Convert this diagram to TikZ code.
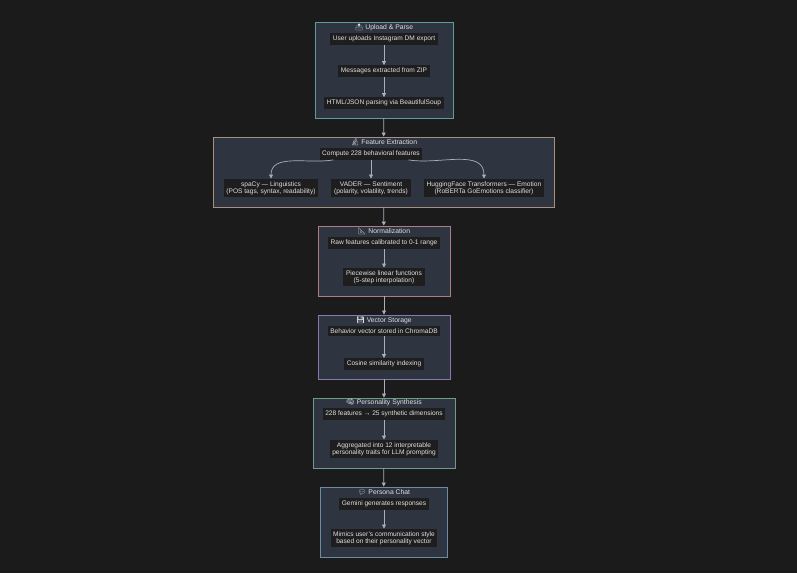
\documentclass[tikz,border=0pt]{standalone}
\usepackage{fontspec}
\setmainfont{Liberation Sans}
\newfontfamily\emo{Noto Emoji}
\usetikzlibrary{arrows.meta}
\definecolor{bg}{HTML}{1B1B1B}
\definecolor{clfill}{HTML}{2E3440}
\definecolor{nfill}{HTML}{1E1E1E}
\definecolor{txt}{HTML}{E0E0E0}
\definecolor{edge}{HTML}{A8B0BC}
\definecolor{b1c}{HTML}{5E9C9C}
\definecolor{b2c}{HTML}{A89080}
\definecolor{b3c}{HTML}{B07C84}
\definecolor{b4c}{HTML}{8878B0}
\definecolor{b5c}{HTML}{6E9C84}
\definecolor{b6c}{HTML}{6A8CA8}
\tikzset{
 x=1pt,y=-1pt,
 cl/.style={draw=#1,fill=clfill,line width=0.9pt,inner sep=0pt},
 nd/.style={fill=nfill,text=txt,font=\fontsize{6.6}{7.2}\selectfont,align=center,inner sep=2.6pt},
 ttl/.style={text=txt,font=\fontsize{6.8}{7}\selectfont,inner sep=0pt},
 ar/.style={draw=edge,line width=0.7pt,-{Triangle[length=4pt,width=4pt]}},
}
\begin{document}
\begin{tikzpicture}
\fill[bg] (0,0) rectangle (797,573);
\useasboundingbox (0,0) rectangle (797,573);
% clusters
\node[cl=b1c, minimum width=138pt, minimum height=96pt] (c1) at (384,70) {};
\node[cl=b2c, minimum width=341pt, minimum height=70pt] (c2) at (383.5,172) {};
\node[cl=b3c, minimum width=132pt, minimum height=70pt] (c3) at (384,261) {};
\node[cl=b4c, minimum width=132pt, minimum height=64pt] (c4) at (384,347) {};
\node[cl=b5c, minimum width=142pt, minimum height=70pt] (c5) at (384,433) {};
\node[cl=b6c, minimum width=127pt, minimum height=70pt] (c6) at (383.5,522) {};
% titles
\node[ttl] (t1) at (384,27) {{\emo 📤} Upload \& Parse};
\node[ttl] (t2) at (384,142) {{\emo 🔬} Feature Extraction};
\node[ttl] (t3) at (384,231) {{\emo 📐} Normalization};
\node[ttl] (t4) at (384,320) {{\emo 💾} Vector Storage};
\node[ttl] (t5) at (384,403) {{\emo 🧠} Personality Synthesis};
\node[ttl] (t6) at (384,492) {{\emo 💬} Persona Chat};
% nodes
\node[nd] (a1) at (384,39) {User uploads Instagram DM export};
\node[nd] (a2) at (384,71) {Messages extracted from ZIP};
\node[nd] (a3) at (384,103) {HTML/JSON parsing via BeautifulSoup};
\node[nd] (b0) at (371,154) {Compute 228 behavioral features};
\node[nd] (b1) at (271,188) {spaCy — Linguistics\\(POS tags, syntax, readability)};
\node[nd] (b2) at (371,188) {VADER — Sentiment\\(polarity, volatility, trends)};
\node[nd] (b3) at (484,188) {HuggingFace Transformers — Emotion\\(RoBERTa GoEmotions classifier)};
\node[nd] (d1) at (384,243) {Raw features calibrated to 0-1 range};
\node[nd] (d2) at (384,277) {Piecewise linear functions\\(5-step interpolation)};
\node[nd] (e1) at (384,331) {Behavior vector stored in ChromaDB};
\node[nd] (e2) at (384,364) {Cosine similarity indexing};
\node[nd] (f1) at (384,414) {228 features → 25 synthetic dimensions};
\node[nd] (f2) at (384,449) {Aggregated into 12 interpretable\\personality traits for LLM prompting};
\node[nd] (g1) at (384,504) {Gemini generates responses};
\node[nd] (g2) at (384,538) {Mimics user's communication style\\based on their personality vector};
% edges
\draw[ar] (a1) -- (a2);
\draw[ar] (a2) -- (a3);
\draw[ar] (b0.south west) ++(14,0) coordinate (bw) to[out=190,in=90] (b1.north);
\draw[ar] (b0) -- (b2);
\draw[ar] (b0.south east) ++(-14,0) coordinate (be) to[out=-10,in=90] (b3.north);
\draw[ar] (d1) -- (d2);
\draw[ar] (e1) -- (e2);
\draw[ar] (f1) -- (f2);
\draw[ar] (g1) -- (g2);
\draw[ar] (c1) -- (c2);
\draw[ar] (c2) -- (c3);
\draw[ar] (c3) -- (c4);
\draw[ar] (c4) -- (c5);
\draw[ar] (c5) -- (c6);
\end{tikzpicture}
\end{document}
